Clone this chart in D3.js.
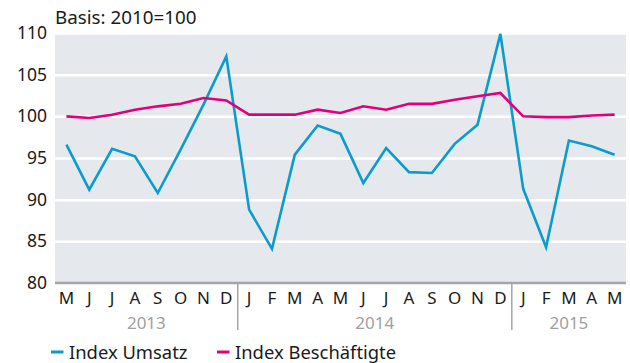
<!DOCTYPE html>
<html>
<head>
<meta charset="utf-8">
<script src="https://cdn.jsdelivr.net/npm/d3@7"></script>
<style>
  html, body { margin: 0; padding: 0; background: #fff; }
  svg { display: block; font-family: "Noto Sans", "Open Sans", sans-serif; }
</style>
</head>
<body>
<svg id="chart" width="630" height="363"></svg>
<script>
// Monthly index values, May 2013 – May 2015 (2010 = 100)
const months = ["M","J","J","A","S","O","N","D",
                "J","F","M","A","M","J","J","A","S","O","N","D",
                "J","F","M","A","M"];
const years = [
  { label: "2013", from: 0,  to: 7  },
  { label: "2014", from: 8,  to: 19 },
  { label: "2015", from: 20, to: 24 }
];
const umsatz = [96.6, 91.2, 96.1, 95.2, 90.8, 96.0, 101.4, 107.2,
                88.8, 84.1, 95.4, 98.9, 97.9, 92.0, 96.2, 93.3, 93.2, 96.7, 99.0, 109.9,
                91.3, 84.3, 97.1, 96.4, 95.4];
const beschaeftigte = [100.0, 99.8, 100.2, 100.8, 101.2, 101.5, 102.2, 101.9,
                       100.2, 100.2, 100.2, 100.8, 100.4, 101.2, 100.8, 101.5, 101.5, 102.0, 102.4, 102.8,
                       100.0, 99.9, 99.9, 100.1, 100.2];
const yTicks = [80, 85, 90, 95, 100, 105, 110];
const seriesNames = ["Index Umsatz", "Index Beschäftigte"];
const colors = ["#0a9bcf", "#e2007a"];

const svg = d3.select("#chart");
const margin = { left: 55, right: 4, top: 33, bottom: 80 };
const W = 630, H = 363;
const textColor = "#1a1a1a";

const x = d3.scaleBand()
  .domain(d3.range(months.length))
  .range([margin.left, W - margin.right])
  .padding(0);
const y = d3.scaleLinear().domain([80, 110]).range([H - margin.bottom, margin.top]);

// plot background
svg.append("rect")
  .attr("x", margin.left).attr("y", margin.top)
  .attr("width", W - margin.left - margin.right)
  .attr("height", y(80) - margin.top)
  .attr("fill", "#e5e9ed");

// horizontal gridlines + y labels
const yAxis = d3.axisLeft(y).tickValues(yTicks).tickSize(-(W - margin.left - margin.right)).tickPadding(8);
const gy = svg.append("g").attr("transform", `translate(${margin.left},0)`).call(yAxis);
gy.select(".domain").remove();
gy.selectAll(".tick line").attr("stroke", "#fff").attr("stroke-width", 2.5)
  .filter(d => d === 80).remove();
gy.selectAll(".tick text").attr("fill", textColor).attr("font-size", 17.5)
  .attr("font-family", "'Noto Sans', sans-serif");

// baseline
svg.append("line")
  .attr("x1", margin.left).attr("x2", W - margin.right)
  .attr("y1", y(80)).attr("y2", y(80))
  .attr("stroke", "#a3a6a9").attr("stroke-width", 2.5);

// month labels
const xAxis = d3.axisBottom(x).tickFormat(i => months[i]).tickSize(0).tickPadding(9);
const gx = svg.append("g").attr("transform", `translate(0,${y(80)})`).call(xAxis);
gx.select(".domain").remove();
gx.selectAll(".tick text").attr("fill", textColor).attr("font-size", 17)
  .attr("font-family", "'Noto Sans', sans-serif");

// year separators + year labels
years.forEach((yr, i) => {
  if (i > 0) {
    svg.append("line")
      .attr("x1", x(yr.from)).attr("x2", x(yr.from))
      .attr("y1", y(80)).attr("y2", y(80) + 47)
      .attr("stroke", "#a3a6a9").attr("stroke-width", 1.5);
  }
  const cx = (x(yr.from) + x(yr.to) + x.bandwidth()) / 2;
  svg.append("text")
    .attr("x", cx).attr("y", y(80) + 46)
    .attr("text-anchor", "middle")
    .attr("font-size", 17)
    .attr("fill", "#a0a0a0")
    .text(yr.label);
});

// lines
const line = d3.line()
  .x((d, i) => x(i) + x.bandwidth() / 2)
  .y(d => y(d));
[umsatz, beschaeftigte].forEach((s, k) => {
  svg.append("path")
    .datum(s)
    .attr("fill", "none")
    .attr("stroke", colors[k])
    .attr("stroke-width", 2.6)
    .attr("stroke-linejoin", "miter")
    .attr("d", line);
});

// subtitle
svg.append("text")
  .attr("x", 55).attr("y", 24)
  .attr("font-size", 18.8)
  .attr("fill", textColor)
  .text("Basis: 2010=100");

// legend
const legendItems = [{ x: 51 }, { x: 217 }];
legendItems.forEach((it, k) => {
  const g = svg.append("g").attr("transform", `translate(${it.x},352)`);
  g.append("line").attr("x1", 0).attr("x2", 12.5).attr("y1", 0).attr("y2", 0)
    .attr("stroke", colors[k]).attr("stroke-width", 3);
  g.append("text").attr("x", 18).attr("y", 6.5)
    .attr("font-size", 18.4)
    .attr("fill", textColor)
    .text(seriesNames[k]);
});
</script>
</body>
</html>
